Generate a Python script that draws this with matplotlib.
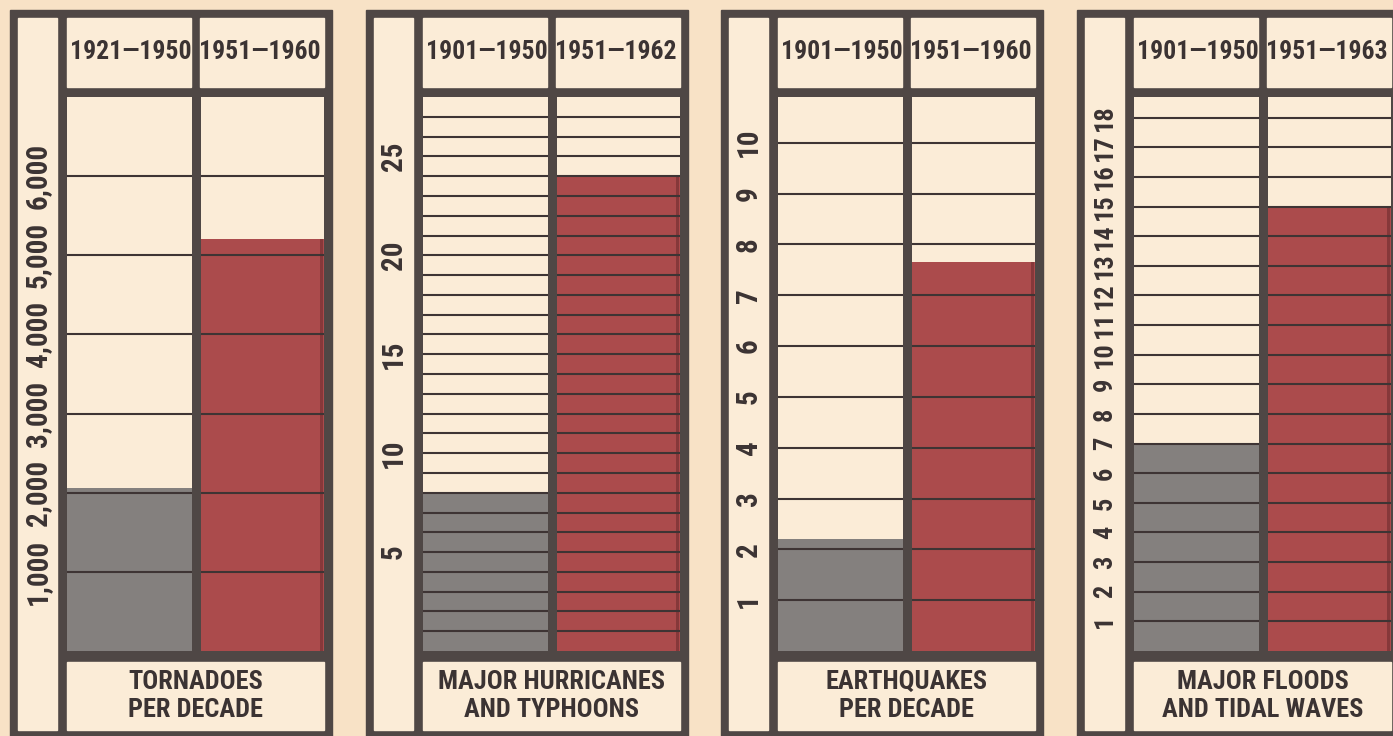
import numpy as np
import matplotlib.pyplot as plt
from matplotlib.patches import Rectangle

plt.rcParams['font.family'] = ['Roboto Condensed', 'DejaVu Sans']

# values
titles = ['TORNADOES\nPER DECADE', 'MAJOR HURRICANES\nAND TYPHOONS',
          'EARTHQUAKES\nPER DECADE', 'MAJOR FLOODS\nAND TIDAL WAVES']
periods = [['1921—1950', '1951—1960'], ['1901—1950', '1951—1962'],
           ['1901—1950', '1951—1960'], ['1901—1950', '1951—1963']]
tornadoes = [2060, 5200]
hurricanes = [8, 24]
earthquakes = [2.2, 7.65]
floods = [7, 15]
values = [tornadoes, hurricanes, earthquakes, floods]
ymax = [7000, 28, 10.9, 18.7]
grid_step = [1000, 1, 1, 1]
tick_vals = [[1000, 2000, 3000, 4000, 5000, 6000],
             [5, 10, 15, 20, 25],
             list(range(1, 11)),
             list(range(1, 19))]
tick_labels = [['1,000', '2,000', '3,000', '4,000', '5,000', '6,000'],
               ['5', '10', '15', '20', '25'],
               [str(v) for v in range(1, 11)],
               [str(v) for v in range(1, 19)]]
tick_size = [21, 21, 21, 19]

# colours
page = '#f8e2c6'
cream = '#fbecd7'
dark = '#4f4745'
ink = '#3b3333'
gray = '#84807e'
red = '#ab4b4c'
red_edge = '#86383a'
line = '#3e3434'

W, H = 1393, 736
fig = plt.figure(figsize=(W / 100, H / 100), dpi=100)
fig.patch.set_facecolor(page)

bg = fig.add_axes([0, 0, 1, 1])
bg.set_xlim(0, W)
bg.set_ylim(H, 0)
bg.axis('off')

col_left = [67, 423, 778, 1134]   # left edge of first column (px)
cw, dv = 124, 9                   # column width, divider width
plot_top, plot_bot = 97, 651

for i, cl in enumerate(col_left):
    x0 = cl - 57
    inner_w = 2 * cw + dv
    # dark frame + cream cells
    bg.add_patch(Rectangle((x0, 10), inner_w + 65, 740, color=dark))
    bg.add_patch(Rectangle((x0 + 8, 18), 39, 712, color=cream))
    bg.add_patch(Rectangle((cl, 18), cw, 69, color=cream))
    bg.add_patch(Rectangle((cl + cw + dv, 18), cw, 69, color=cream))
    bg.add_patch(Rectangle((cl, 662), inner_w, 68, color=cream))
    bg.text(cl + inner_w / 2, 696, titles[i], ha='center', va='center',
            fontsize=19, fontweight='bold', color=ink, linespacing=1.2)

    ax = fig.add_axes([cl / W, 1 - plot_bot / H, inner_w / W,
                       (plot_bot - plot_top) / H])
    ax.set_facecolor(cream)
    ax.bar([0, 1], values[i], width=1, color=[gray, red], zorder=1)
    # darker shadow along the right edge of the red bar
    ax.bar([1.48], [values[i][1]], width=0.02, color=red_edge, zorder=1)
    gl = np.arange(grid_step[i], ymax[i], grid_step[i])
    ax.hlines(gl, -0.5, 1.5, color=line, lw=1.5, zorder=2)
    ax.axvline(0.5, color=dark, lw=dv * 0.72, zorder=3)
    ax.set_xlim(-0.5, 1.5)
    ax.set_ylim(0, ymax[i])
    for s in ax.spines.values():
        s.set_visible(False)

    ax.set_yticks(tick_vals[i])
    ax.set_yticklabels(tick_labels[i], rotation=90, va='center', ha='center',
                       fontsize=tick_size[i], fontweight='bold', color=ink)
    ax.tick_params(axis='y', length=0, pad=29 * 0.72)

    ax.xaxis.tick_top()
    ax.set_xticks([0, 1])
    ax.set_xticklabels(periods[i], va='center', fontsize=18.5,
                       fontweight='bold', color=ink)
    ax.tick_params(axis='x', length=0, pad=45 * 0.72)

fig.savefig('out.png', dpi=100, facecolor=page)
